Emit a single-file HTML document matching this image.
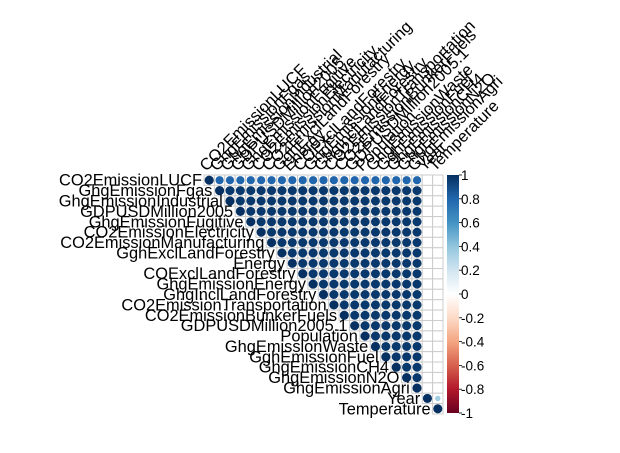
<!DOCTYPE html>
<html><head><meta charset="utf-8"><style>
body{margin:0;background:#fff;}
svg{display:block;font-family:"Liberation Sans",sans-serif;}
</style></head><body>
<svg id="chart" width="620" height="453" viewBox="0 0 620 453" xmlns="http://www.w3.org/2000/svg"></svg>
<script>
const variables=["CO2EmissionLUCF","GhgEmissionFgas","GhgEmissionIndustrial","GDPUSDMillion2005","GhgEmissionFugitive","CO2EmissionElectricity","CO2EmissionManufacturing","GghExclLandForestry","Energy","COExclLandForestry","GhgEmissionEnergy","GhgInclLandForestry","CO2EmissionTransportation","CO2EmissionBunkerFuels","GDPUSDMillion2005.1","Population","GhgEmissionWaste","GghEmissionFuel","GhgEmissionCH4","GhgEmissionN2O","GhgEmissionAgri","Year","Temperature"];
const row1Corr=0.8;
const emissionCorr=0.97;
const yearCorr=0.03;
const tempCorr=0.03;
const yearTempCorr=0.35;
const legendTicks=[1,0.8,0.6,0.4,0.2,0,-0.2,-0.4,-0.6,-0.8,-1];
const palette=["#67001F","#B2182B","#D6604D","#F4A582","#FDDBC7","#FFFFFF","#D1E5F0","#92C5DE","#4393C3","#2166AC","#053061"];

const n=variables.length;
function corr(i,j){
  if(i===j) return 1;
  const a=Math.min(i,j),b=Math.max(i,j);
  if(a===n-2&&b===n-1) return yearTempCorr;
  if(b===n-2) return yearCorr;
  if(b===n-1) return tempCorr;
  if(a===0) return row1Corr;
  return emissionCorr;
}
const gx=204,gy=175,cell=(443-204)/n;
const barX=447,barW=12,barTop=175,barBot=413;
function xC(j){return gx+cell*(j+0.5);}
function yC(i){return gy+cell*(i+0.5);}
function yBar(v){return barTop+(1-v)/2*(barBot-barTop);}
function hex(c){return [1,3,5].map(k=>parseInt(c.substr(k,2),16));}
function color(v){
  const t=(v+1)/2*(palette.length-1);
  const k=Math.min(Math.floor(t),palette.length-2),f=t-k;
  const a=hex(palette[k]),b=hex(palette[k+1]);
  return "rgb("+a.map((x,q)=>Math.round(x+(b[q]-x)*f)).join(",")+")";
}
const svg=document.getElementById("chart");
const NS="http://www.w3.org/2000/svg";
function mk(tag,attrs){const e=document.createElementNS(NS,tag);for(const k in attrs)e.setAttribute(k,attrs[k]);svg.appendChild(e);return e;}

for(let i=0;i<n;i++){
  for(let j=i;j<n;j++){
    const r=mk("rect",{x:gx+cell*j,y:gy+cell*i,width:cell,height:cell,fill:"#fff",stroke:"#cccccc","stroke-width":1});
    
    
  }
}
for(let i=0;i<n;i++){
  for(let j=i;j<n;j++){
    const v=corr(i,j);
    const c=mk("circle",{cx:xC(j),cy:yC(i),r:Math.max(0.4,cell*0.44*Math.sqrt(Math.abs(v))),fill:color(v)});
    
    
  }
}
for(let i=0;i<n;i++){
  const t=mk("text",{x:gx+cell*i-2,y:yC(i)+5.5,"text-anchor":"end","font-size":16.4,fill:"#000"});
  t.textContent=variables[i];
  
  
  const t2=mk("text",{x:0,y:0,"font-size":16.4,fill:"#000",transform:"translate("+(xC(i)-3)+","+(gy-3)+") rotate(-45)"});
  t2.textContent=variables[i];
  
  
}
const defs=mk("defs",{});
const lg=document.createElementNS(NS,"linearGradient");
lg.setAttribute("id","g");lg.setAttribute("x1","0");lg.setAttribute("y1","1");lg.setAttribute("x2","0");lg.setAttribute("y2","0");
defs.appendChild(lg);
palette.forEach((c,k)=>{const s=document.createElementNS(NS,"stop");s.setAttribute("offset",k/(palette.length-1));s.setAttribute("stop-color",c);lg.appendChild(s);});
const bar=mk("rect",{x:barX,y:barTop,width:barW,height:barBot-barTop,fill:"url(#g)"});


legendTicks.forEach(v=>{
  mk("line",{x1:barX+barW,x2:barX+barW+3,y1:yBar(v),y2:yBar(v),stroke:"#000","stroke-width":0.8});
  const t=mk("text",{x:barX+barW+2,y:yBar(v)+5,"font-size":13.5,fill:"#000"});
  t.textContent=String(v);
  
  
});
</script>
</body></html>
